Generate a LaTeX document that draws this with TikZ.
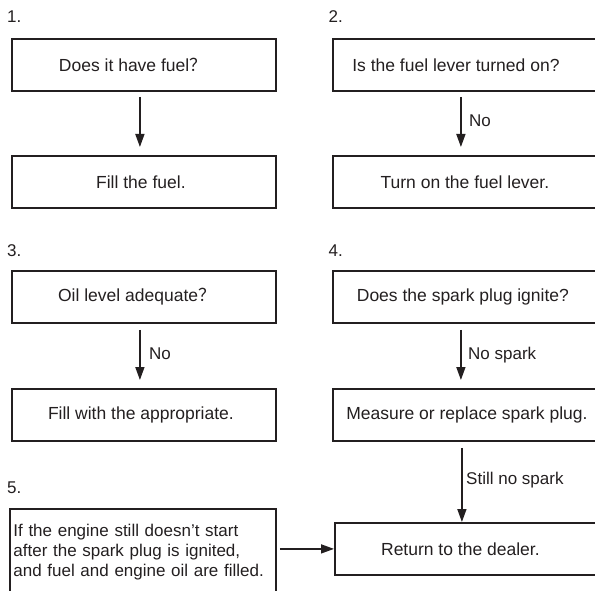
\documentclass[tikz,border=0pt]{standalone}
\usepackage{fontspec}
\setmainfont{Liberation Sans}
\newfontfamily\cjk{Noto Sans CJK SC}
\usetikzlibrary{arrows.meta}
\definecolor{ink}{RGB}{35,31,32}
\newcommand{\padr}[1]{\rule{#1}{0pt}}
\begin{document}
\begin{tikzpicture}[x=1bp,y=-1bp,
  every node/.style={text=ink, font=\fontsize{17bp}{20bp}\selectfont},
  box/.style={draw=ink, line width=1.8bp, minimum width=264bp, minimum height=52bp, inner sep=0pt, anchor=north west, font=\fontsize{17.5bp}{20bp}\selectfont},
  rbox/.style={box, minimum width=268bp},
  arr/.style={draw=ink, line width=1.6bp, -{Triangle[width=9bp,length=13bp]}},
  lab/.style={anchor=base west, inner sep=0pt}]
\useasboundingbox (0,0) rectangle (595,591);
% numbers
\node[lab] (n1) at (7,23) {1.};
\node[lab] (n2) at (328.5,23) {2.};
\node[lab] (n3) at (7,256) {3.};
\node[lab] (n4) at (328.5,256) {4.};
\node[lab] (n5) at (7,493) {5.};
% boxes
\node[box] (q1) at (11,38) {Does it have fuel{\cjk ？}\padr{22bp}};
\node[box] (a1) at (11,155) {Fill the fuel.\padr{6bp}};
\node[rbox] (q2) at (332,38) {Is the fuel lever turned on?\padr{22bp}};
\node[rbox] (a2) at (332,155) {Turn on the fuel lever.\padr{4bp}};
\node[box] (q3) at (11,270) {Oil level adequate{\cjk ？}\padr{14bp}};
\node[box] (a3) at (11,388) {Fill with the appropriate.\padr{6bp}};
\node[rbox] (q4) at (332,270) {Does the spark plug ignite?\padr{8bp}};
\node[rbox] (a4) at (332,388) {Measure or replace spark plug.};
\node[rbox] (r) at (334,522) {Return to the dealer.\padr{17bp}};
\node[draw=ink, line width=1.8bp, anchor=north west, text width=259bp, align=left,
      inner xsep=3.5bp, inner ysep=15bp] (b5) at (9,508)
  {If the engine still doesn’t start\\after the spark plug is ignited,\\and fuel and engine oil are filled.};
% arrows
\draw[arr, shorten <=5bp, shorten >=8bp] ([xshift=-4bp]q1.south) -- ([xshift=-4bp]a1.north);
\draw[arr, shorten <=5bp, shorten >=8bp] ([xshift=-6bp]q2.south) -- ([xshift=-6bp]a2.north);
\draw[arr, shorten <=6bp, shorten >=8bp] ([xshift=-4bp]q3.south) -- ([xshift=-4bp]a3.north);
\draw[arr, shorten <=6bp, shorten >=8bp] ([xshift=-6bp]q4.south) -- ([xshift=-6bp]a4.north);
\draw[arr, shorten <=6bp] ([xshift=-5bp]a4.south) -- ([xshift=-5bp]a4.south |- r.north);
\draw[arr, shorten <=3bp] (b5.east |- r.west) -- (r.west);
% arrow labels
\node[lab] (l2) at (469,127) {No};
\node[lab] (l3) at (149,359) {No};
\node[lab] (l4) at (468,359) {No spark};
\node[lab] (l5) at (466,484) {Still no spark};
\end{tikzpicture}
\end{document}
